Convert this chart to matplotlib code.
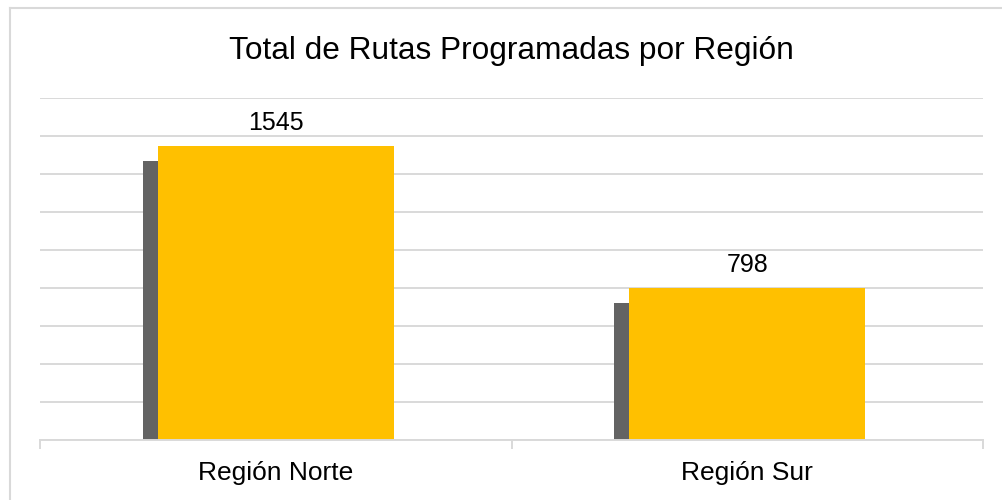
import matplotlib
matplotlib.use("Agg")
import matplotlib.pyplot as plt
import matplotlib.transforms as mtransforms
from matplotlib.lines import Line2D

# Data
regiones = ["Región Norte", "Región Sur"]
rutas = [1545, 798]

GOLD = "#FFC000"
SHADOW = "#636363"
GRID = "#d9d9d9"

plt.rcParams["font.family"] = ["Liberation Sans", "DejaVu Sans"]

fig = plt.figure(figsize=(10.02, 5.0), dpi=100)
ax = fig.add_axes([40 / 1002, 60 / 500, 943 / 1002, 342 / 500])

x = list(range(len(regiones)))

# Drop shadow: same bars shifted left and down
shift = mtransforms.ScaledTranslation(-15 / 100, -15 / 100, fig.dpi_scale_trans)
ax.bar(x, rutas, width=0.5, color=SHADOW, zorder=2,
       transform=ax.transData + shift)
bars = ax.bar(x, rutas, width=0.5, color=GOLD, zorder=3)

# Value labels
for b, v in zip(bars, rutas):
    ax.annotate(str(v), (b.get_x() + b.get_width() / 2, v),
                xytext=(0, 8), textcoords="offset points",
                ha="center", va="bottom", fontsize=18, color="#000000")

ax.set_xlim(-0.5, len(regiones) - 0.5)
ax.set_ylim(0, 1800)
ax.set_yticks(range(0, 1801, 200))
ax.yaxis.grid(True, color=GRID, linewidth=1.4, zorder=0)
ax.set_axisbelow(True)
ax.tick_params(axis="y", left=False, labelleft=False)

ax.set_xticks(x)
ax.set_xticklabels(regiones, fontsize=19)
ax.tick_params(axis="x", length=0, pad=15)
ax.set_xticks([i - 0.5 for i in range(len(regiones) + 1)], minor=True)
ax.tick_params(axis="x", which="minor", length=6.5, width=1.4, color=GRID)

for s in ["top", "left", "right"]:
    ax.spines[s].set_visible(False)
ax.spines["bottom"].set_color(GRID)
ax.spines["bottom"].set_linewidth(1.4)
ax.spines["bottom"].set_zorder(4)

fig.text(511 / 1002, 1 - 51 / 500, "Total de Rutas Programadas por Región",
         ha="center", va="center", fontsize=22.8)

# Chart area border (top and left edges)
fig.add_artist(Line2D([10 / 1002, 1], [1 - 8 / 500, 1 - 8 / 500],
                      color=GRID, linewidth=1.5, transform=fig.transFigure))
fig.add_artist(Line2D([10 / 1002, 10 / 1002], [0, 1 - 8 / 500],
                      color=GRID, linewidth=1.5, transform=fig.transFigure))

fig.savefig("out.png", dpi=100)
